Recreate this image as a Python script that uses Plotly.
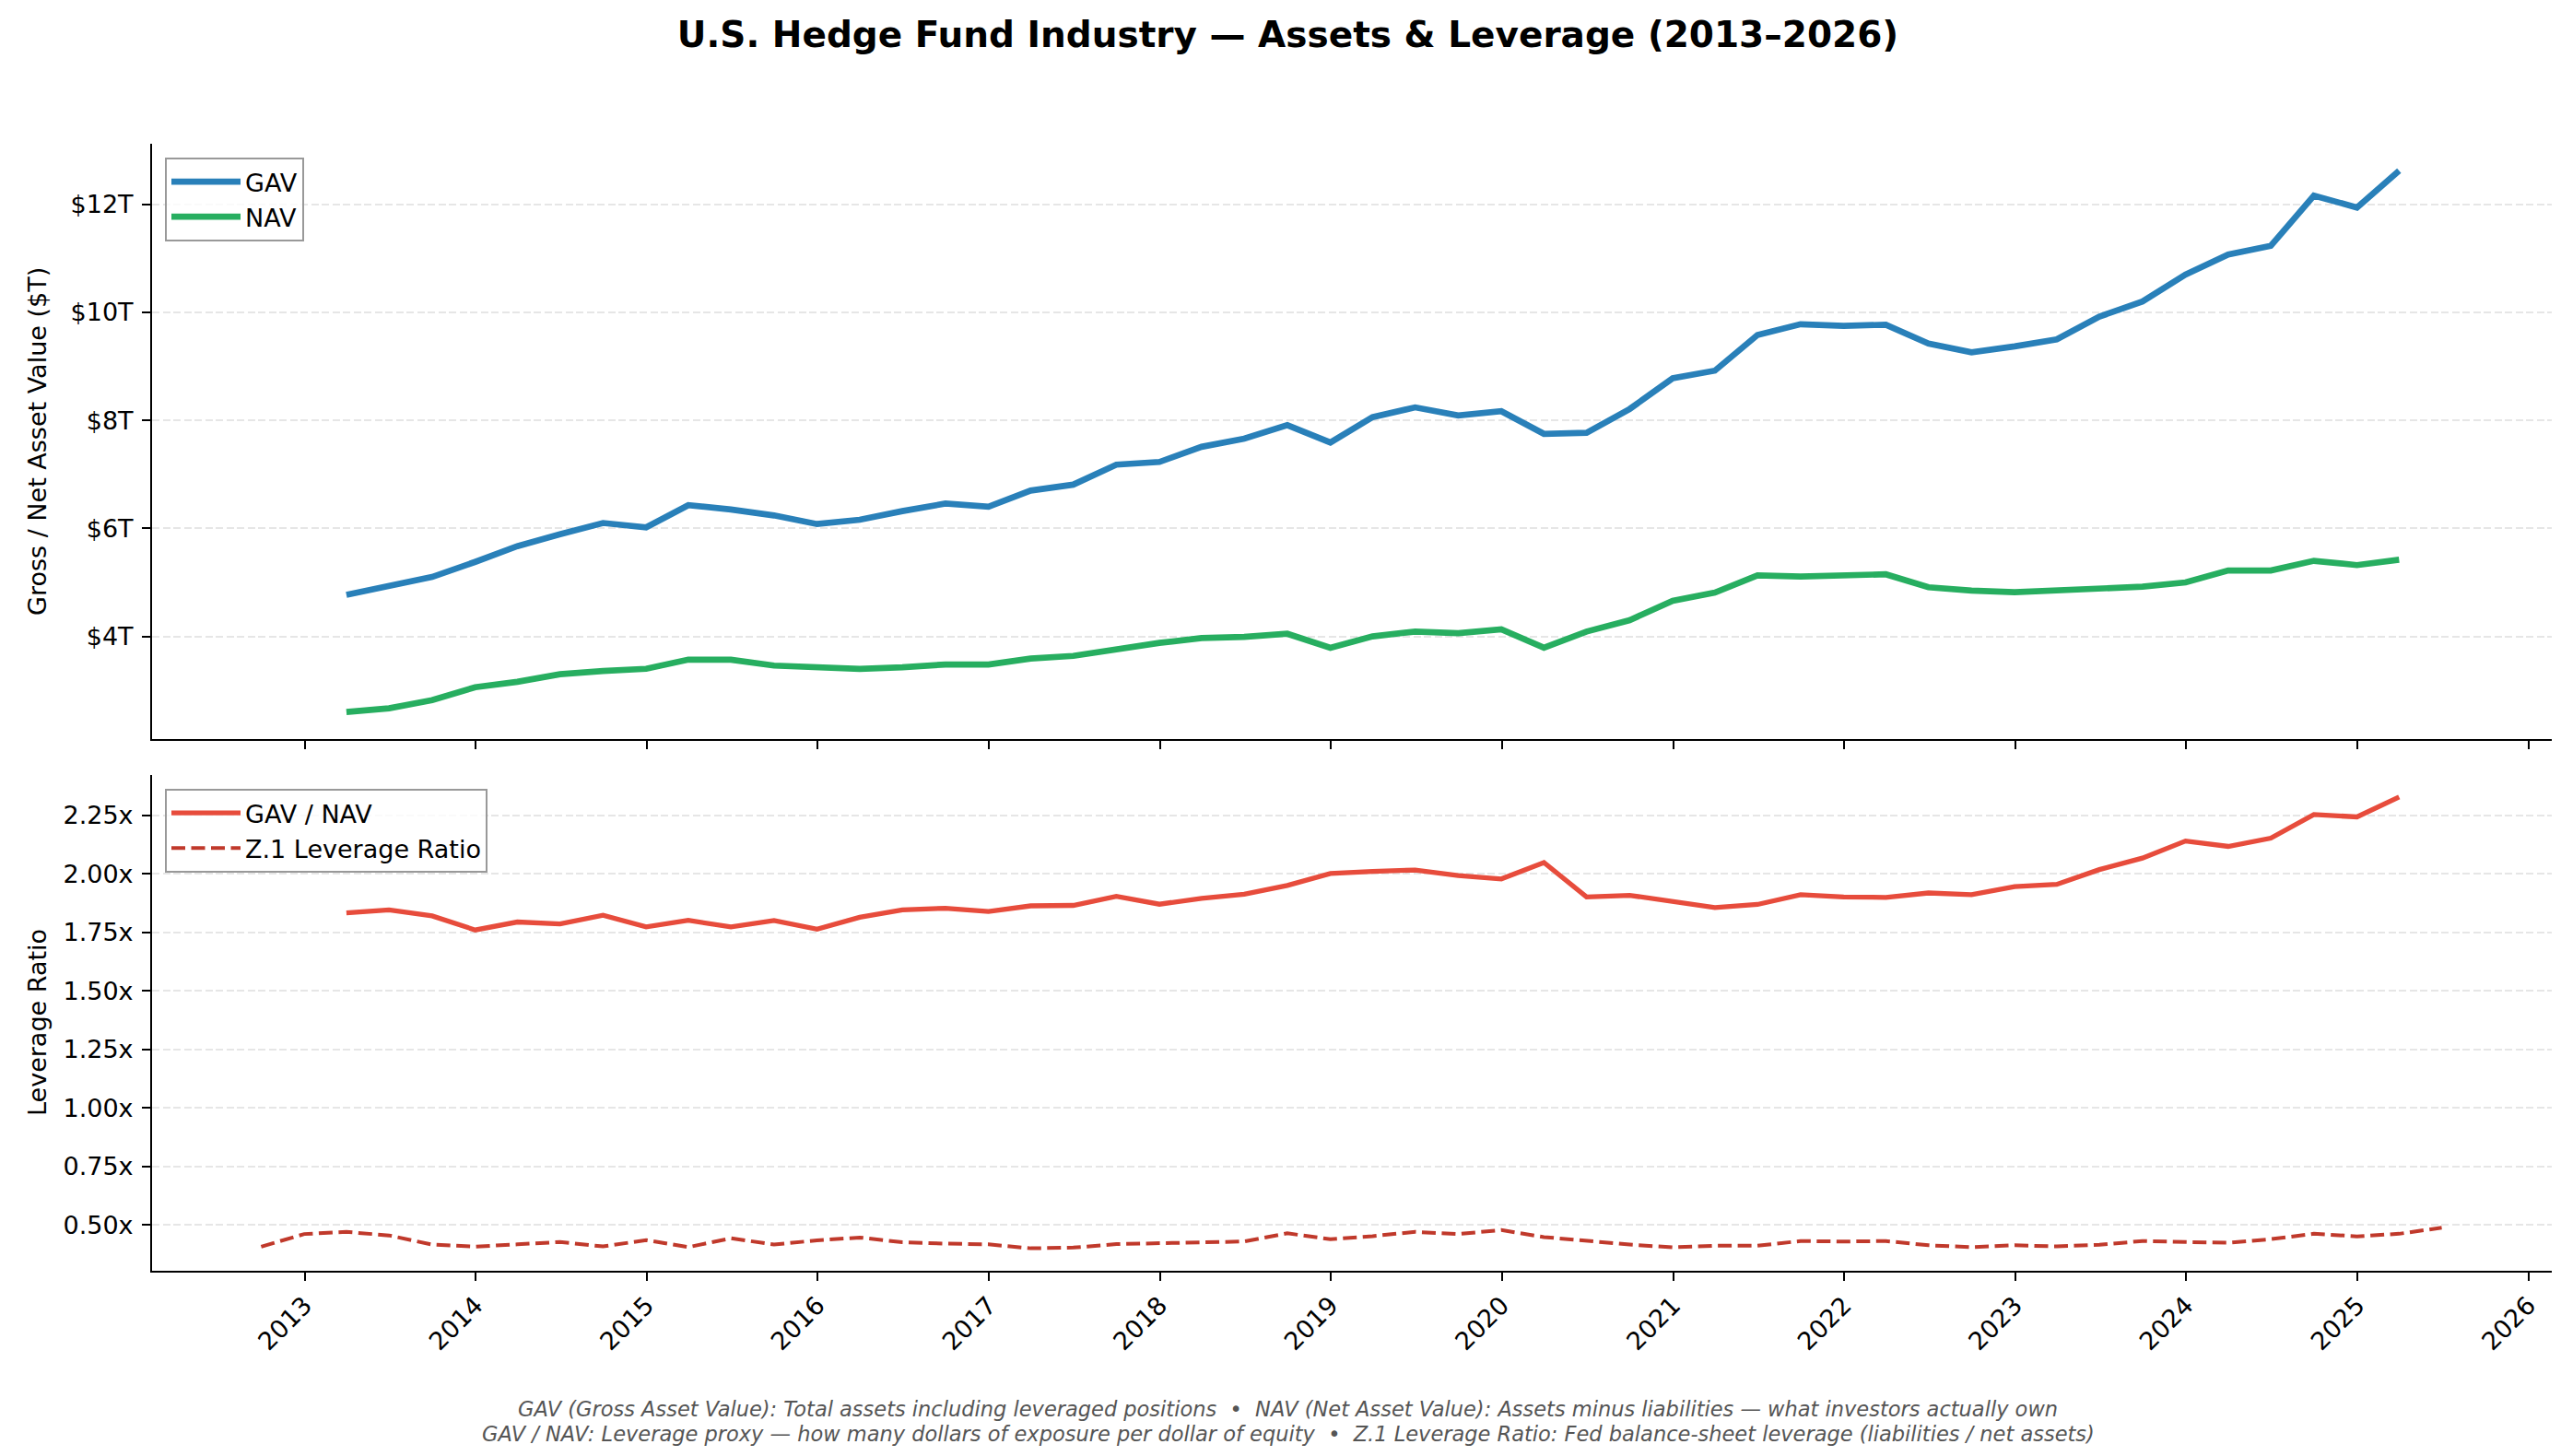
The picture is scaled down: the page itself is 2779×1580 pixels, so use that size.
import plotly.graph_objects as go

# quarter-end dates (x positions)
quarter_ends = [f"{y}-{md}" for y in range(2012, 2026) for md in ("03-31", "06-30", "09-30", "12-31")]
fund_dates = quarter_ends[4:53]   # 2013-Q1 .. 2025-Q1
z1_dates = quarter_ends[2:54]     # 2012-Q3 .. 2025-Q2

# $ trillions
gav = [4.77, 4.94, 5.10, 5.38, 5.67, 5.89, 6.10, 6.02, 6.43, 6.35, 6.24, 6.08, 6.16, 6.32, 6.46, 6.40,
       6.70, 6.81, 7.18, 7.23, 7.51, 7.66, 7.91, 7.59, 8.06, 8.24, 8.09, 8.17, 7.75, 7.77, 8.21, 8.78,
       8.92, 9.58, 9.78, 9.75, 9.77, 9.42, 9.26, 9.37, 9.50, 9.92, 10.20, 10.70, 11.07, 11.23, 12.16,
       11.94, 12.62]
nav = [2.60, 2.67, 2.82, 3.06, 3.16, 3.30, 3.36, 3.40, 3.57, 3.57, 3.46, 3.44, 3.40, 3.43, 3.48, 3.48,
       3.59, 3.64, 3.77, 3.88, 3.97, 3.99, 4.05, 3.79, 4.00, 4.09, 4.06, 4.13, 3.79, 4.09, 4.30, 4.66,
       4.81, 5.13, 5.11, 5.13, 5.15, 4.91, 4.85, 4.82, 4.85, 4.90, 4.92, 5.00, 5.22, 5.22, 5.40, 5.32, 5.42]

# leverage ratios
gav_nav = [1.833, 1.846, 1.820, 1.760, 1.794, 1.786, 1.823, 1.773, 1.801, 1.773, 1.800, 1.763, 1.814,
           1.846, 1.853, 1.839, 1.863, 1.865, 1.904, 1.870, 1.895, 1.913, 1.950, 2.001, 2.010, 2.016,
           1.992, 1.978, 2.048, 1.901, 1.908, 1.882, 1.856, 1.869, 1.911, 1.901, 1.899, 1.918, 1.911,
           1.945, 1.955, 2.018, 2.067, 2.140, 2.117, 2.152, 2.253, 2.243, 2.328]
z1_lev = [0.407, 0.461, 0.470, 0.455, 0.416, 0.407, 0.417, 0.427, 0.408, 0.435, 0.405, 0.443, 0.416,
          0.434, 0.446, 0.426, 0.420, 0.417, 0.400, 0.403, 0.418, 0.422, 0.429, 0.429, 0.464, 0.439,
          0.452, 0.470, 0.461, 0.478, 0.448, 0.431, 0.416, 0.404, 0.411, 0.411, 0.431, 0.429, 0.431,
          0.413, 0.405, 0.413, 0.408, 0.415, 0.431, 0.427, 0.424, 0.439, 0.462, 0.451, 0.462, 0.488]

W, H = 2779, 1580
FONT = "DejaVu Sans"

fig = go.Figure()
fig.add_trace(go.Scatter(x=fund_dates, y=gav, name="GAV", mode="lines",
                         line=dict(color="#2980b9", width=6.7), xaxis="x", yaxis="y", legend="legend"))
fig.add_trace(go.Scatter(x=fund_dates, y=nav, name="NAV", mode="lines",
                         line=dict(color="#27ae60", width=6.7), xaxis="x", yaxis="y", legend="legend"))
fig.add_trace(go.Scatter(x=fund_dates, y=gav_nav, name="GAV / NAV", mode="lines",
                         line=dict(color="#e74c3c", width=5.3), xaxis="x2", yaxis="y2", legend="legend2"))
fig.add_trace(go.Scatter(x=z1_dates, y=z1_lev, name="Z.1 Leverage Ratio", mode="lines",
                         line=dict(color="#c0392b", width=4, dash="15px,6.5px"),
                         xaxis="x2", yaxis="y2", legend="legend2"))

xdom = [157 / W, 2761 / W]
xrange = ["2012-02-10", "2026-02-20"]
common_x = dict(domain=xdom, type="date", range=xrange, tick0="2013-01-01", dtick="M12",
                tickformat="%Y", showline=True, linecolor="black", linewidth=2, ticks="outside",
                ticklen=9, tickwidth=2, tickcolor="black", showgrid=False, zeroline=False)
common_y = dict(showline=True, linecolor="black", linewidth=2, ticks="outside", ticklen=9,
                tickwidth=2, tickcolor="black", showgrid=True, gridcolor="#e6e6e6", gridwidth=2,
                griddash="8px,3.5px", zeroline=False, ticklabelstandoff=4)
legend_style = dict(xanchor="left", yanchor="top", bgcolor="rgba(255,255,255,0.8)",
                    bordercolor="#999999", borderwidth=2, font=dict(size=27), itemwidth=75)

fig.update_layout(
    width=W, height=H, margin=dict(l=0, r=0, t=0, b=0),
    paper_bgcolor="white", plot_bgcolor="white",
    font=dict(family=FONT, size=27, color="black"),
    title=dict(text="<b>U.S. Hedge Fund Industry — Assets & Leverage (2013–2026)</b>",
               x=0.5, xanchor="center", y=1 - 29 / H, yanchor="middle", font=dict(size=39)),
    xaxis=dict(common_x, anchor="y", showticklabels=False),
    yaxis=dict(common_y, domain=[1 - 794 / H, 1 - 148 / H], anchor="x", range=[2.10, 13.12],
               tick0=0, dtick=2, tickprefix="$", ticksuffix="T"),
    xaxis2=dict(common_x, anchor="y2", tickangle=-45),
    yaxis2=dict(common_y, domain=[1 - 1371 / H, 1 - 832.5 / H], anchor="x2", range=[0.304, 2.424],
                tick0=0, dtick=0.25, tickformat=".2f", ticksuffix="x"),
    legend=dict(legend_style, x=171 / W, y=1 - 163 / H),
    legend2=dict(legend_style, x=171 / W, y=1 - 848 / H),
    showlegend=True,
)

# y-axis titles
fig.add_annotation(text="Gross / Net Asset Value ($T)", textangle=-90, x=32 / W, y=1 - 471 / H,
                   xref="paper", yref="paper", xanchor="center", yanchor="middle",
                   showarrow=False, font=dict(size=27))
fig.add_annotation(text="Leverage Ratio", textangle=-90, x=32 / W, y=1 - 1102 / H,
                   xref="paper", yref="paper", xanchor="center", yanchor="middle",
                   showarrow=False, font=dict(size=27))

# footnote
note1 = ("GAV (Gross Asset Value): Total assets including leveraged positions  •  "
         "NAV (Net Asset Value): Assets minus liabilities — what investors actually own")
note2 = ("GAV / NAV: Leverage proxy — how many dollars of exposure per dollar of equity  •  "
         "Z.1 Leverage Ratio: Fed balance-sheet leverage (liabilities / net assets)")
for txt, yy in ((note1, 1521), (note2, 1548)):
    fig.add_annotation(text=txt, x=0.5, y=1 - yy / H, xref="paper", yref="paper", showarrow=False,
                       xanchor="center", yanchor="middle",
                       font=dict(size=22.5, color="#555555", style="italic"))

fig.write_html("out.html")
